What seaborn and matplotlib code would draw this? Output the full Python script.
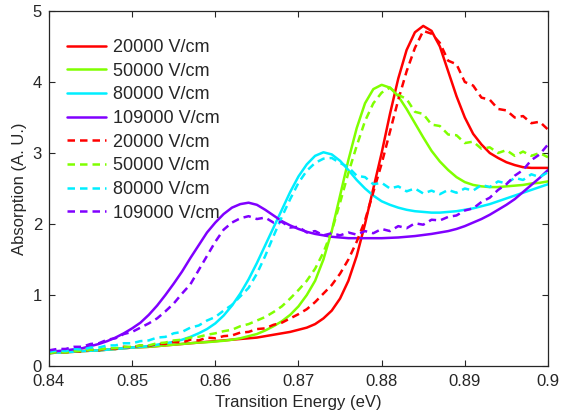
import numpy as np
import pandas as pd
import matplotlib
matplotlib.use("Agg")
import matplotlib.pyplot as plt
import seaborn as sns

energia = np.round(np.linspace(0.84, 0.90, 61), 3)

campos = ["20000 V/cm", "50000 V/cm", "80000 V/cm", "109000 V/cm"]
colores = ["#ff0000", "#80ff00", "#00eeff", "#8000ff"]

# curvas teoricas (continuas)
teo_20000 = [0.18, 0.19, 0.195, 0.20, 0.21, 0.215, 0.22, 0.23, 0.24, 0.25,
             0.26, 0.265, 0.27, 0.28, 0.29, 0.30, 0.31, 0.32, 0.33, 0.34,
             0.35, 0.36, 0.37, 0.38, 0.39, 0.40, 0.42, 0.44, 0.46, 0.48,
             0.51, 0.54, 0.59, 0.67, 0.78, 0.95, 1.2, 1.55, 2.0, 2.5,
             3.0, 3.55, 4.05, 4.45, 4.7, 4.79, 4.72, 4.5, 4.15, 3.8,
             3.5, 3.27, 3.12, 3.0, 2.93, 2.87, 2.83, 2.8, 2.79, 2.79, 2.79]
teo_50000 = [0.18, 0.19, 0.195, 0.20, 0.21, 0.215, 0.22, 0.23, 0.24, 0.25,
             0.26, 0.265, 0.27, 0.28, 0.29, 0.30, 0.31, 0.32, 0.33, 0.335,
             0.345, 0.355, 0.37, 0.39, 0.42, 0.45, 0.50, 0.56, 0.63, 0.72,
             0.84, 1.0, 1.2, 1.5, 1.9, 2.4, 2.9, 3.35, 3.7, 3.9,
             3.96, 3.92, 3.8, 3.62, 3.42, 3.22, 3.03, 2.88, 2.76, 2.66,
             2.59, 2.55, 2.53, 2.52, 2.52, 2.53, 2.54, 2.55, 2.57, 2.58, 2.6]
teo_80000 = [0.18, 0.19, 0.195, 0.20, 0.21, 0.215, 0.22, 0.23, 0.24, 0.25,
             0.26, 0.27, 0.28, 0.30, 0.32, 0.34, 0.37, 0.41, 0.46, 0.52,
             0.60, 0.71, 0.85, 1.02, 1.22, 1.45, 1.7, 1.95, 2.2, 2.45,
             2.67, 2.84, 2.96, 3.01, 2.98, 2.89, 2.76, 2.62, 2.5, 2.4,
             2.32, 2.27, 2.23, 2.2, 2.18, 2.17, 2.16, 2.16, 2.17, 2.18,
             2.2, 2.22, 2.25, 2.28, 2.32, 2.36, 2.4, 2.44, 2.48, 2.52, 2.56]
teo_109000 = [0.2, 0.21, 0.22, 0.235, 0.25, 0.28, 0.31, 0.35, 0.4, 0.46,
              0.53, 0.61, 0.72, 0.85, 1.0, 1.16, 1.33, 1.52, 1.7, 1.88,
              2.02, 2.14, 2.23, 2.28, 2.3, 2.27, 2.2, 2.12, 2.04, 1.98,
              1.93, 1.89, 1.86, 1.84, 1.82, 1.81, 1.80, 1.80, 1.80, 1.80,
              1.80, 1.805, 1.81, 1.82, 1.83, 1.845, 1.86, 1.88, 1.9, 1.93,
              1.97, 2.02, 2.07, 2.13, 2.2, 2.27, 2.35, 2.45, 2.55, 2.65, 2.76]

# medidas (discontinuas)
exp_20000 = [0.18, 0.20, 0.19, 0.21, 0.20, 0.23, 0.22, 0.25, 0.24, 0.27,
             0.26, 0.29, 0.28, 0.31, 0.31, 0.34, 0.33, 0.37, 0.36, 0.40,
             0.39, 0.42, 0.43, 0.47, 0.48, 0.52, 0.53, 0.58, 0.61, 0.67,
             0.73, 0.80, 0.90, 1.02, 1.14, 1.30, 1.50, 1.75, 2.05, 2.45,
             2.85, 3.3, 3.75, 4.15, 4.48, 4.72, 4.68, 4.55, 4.3, 4.25,
             4.0, 3.95, 3.78, 3.75, 3.62, 3.6, 3.5, 3.52, 3.42, 3.44, 3.33]
exp_50000 = [0.18, 0.20, 0.19, 0.21, 0.21, 0.23, 0.23, 0.25, 0.25, 0.27,
             0.27, 0.29, 0.29, 0.32, 0.33, 0.36, 0.37, 0.40, 0.41, 0.44,
             0.46, 0.49, 0.51, 0.56, 0.59, 0.64, 0.69, 0.76, 0.84, 0.95,
             1.07, 1.2, 1.37, 1.6, 1.9, 2.3, 2.72, 3.1, 3.45, 3.7,
             3.85, 3.92, 3.82, 3.76, 3.58, 3.55, 3.4, 3.38, 3.26, 3.25,
             3.14, 3.16, 3.06, 3.08, 3.0, 3.04, 2.96, 3.02, 2.96, 3.0, 2.94]
exp_80000 = [0.20, 0.22, 0.21, 0.24, 0.23, 0.26, 0.26, 0.29, 0.29, 0.32,
             0.32, 0.35, 0.36, 0.40, 0.41, 0.46, 0.48, 0.54, 0.57, 0.64,
             0.69, 0.78, 0.86, 0.98, 1.1, 1.3, 1.55, 1.83, 2.1, 2.35,
             2.58, 2.75, 2.86, 2.92, 2.93, 2.86, 2.8, 2.68, 2.66, 2.56,
             2.58, 2.5, 2.53, 2.46, 2.5, 2.43, 2.47, 2.42, 2.48, 2.44,
             2.5, 2.47, 2.55, 2.52, 2.6, 2.57, 2.65, 2.62, 2.7, 2.66, 2.73]
exp_109000 = [0.22, 0.24, 0.24, 0.27, 0.27, 0.31, 0.32, 0.37, 0.39, 0.45,
              0.48, 0.54, 0.6, 0.67, 0.77, 0.88, 1.02, 1.15, 1.35, 1.55,
              1.75, 1.92, 2.02, 2.08, 2.11, 2.07, 2.09, 2.02, 2.03, 1.95,
              1.96, 1.88, 1.9, 1.84, 1.87, 1.84, 1.88, 1.85, 1.9, 1.87,
              1.93, 1.9, 1.97, 1.94, 2.01, 1.99, 2.06, 2.05, 2.1, 2.12,
              2.19, 2.22, 2.31, 2.37, 2.48, 2.56, 2.68, 2.76, 2.9, 2.98, 3.12]

teoricas = [teo_20000, teo_50000, teo_80000, teo_109000]
medidas = [exp_20000, exp_50000, exp_80000, exp_109000]

sns.set_style("ticks")
plt.rcParams['font.family'] = ['Liberation Sans', 'DejaVu Sans']

fig = plt.figure(figsize=(5.61, 4.12), dpi=100)
ax = fig.add_axes([0.0873, 0.1117, 0.8895, 0.8616])

for campo, color, valores in zip(campos, colores, teoricas):
    sns.lineplot(x=energia, y=valores, ax=ax, color=color, linewidth=1.8, label=campo)
for campo, color, valores in zip(campos, colores, medidas):
    sns.lineplot(x=energia, y=valores, ax=ax, color=color, linewidth=1.8,
                 dashes=False, label=campo).lines[-1].set_dashes((3, 2))

ax.set_xlim(0.84, 0.9)
ax.set_ylim(0, 5)
ax.set_xticks([0.84, 0.85, 0.86, 0.87, 0.88, 0.89, 0.9])
ax.set_xticklabels(['0.84', '0.85', '0.86', '0.87', '0.88', '0.89', '0.9'])
ax.set_yticks([0, 1, 2, 3, 4, 5])
ax.tick_params(direction='in', top=True, right=True, labelsize=12, length=4)
ax.tick_params(axis='x', pad=6)
ax.tick_params(axis='y', pad=5)
for lado in ax.spines.values():
    lado.set_linewidth(0.9)
ax.set_xlabel('Transition Energy (eV)', fontsize=12, labelpad=4)
ax.set_ylabel('Absorption (A. U.)', fontsize=12, labelpad=4)

ax.legend(loc='upper left', bbox_to_anchor=(0, 0.972), frameon=False,
          fontsize=13, handlelength=2.15, labelspacing=0.37,
          handletextpad=0.4, borderaxespad=0.6)

plt.savefig("out.png", dpi=100)
